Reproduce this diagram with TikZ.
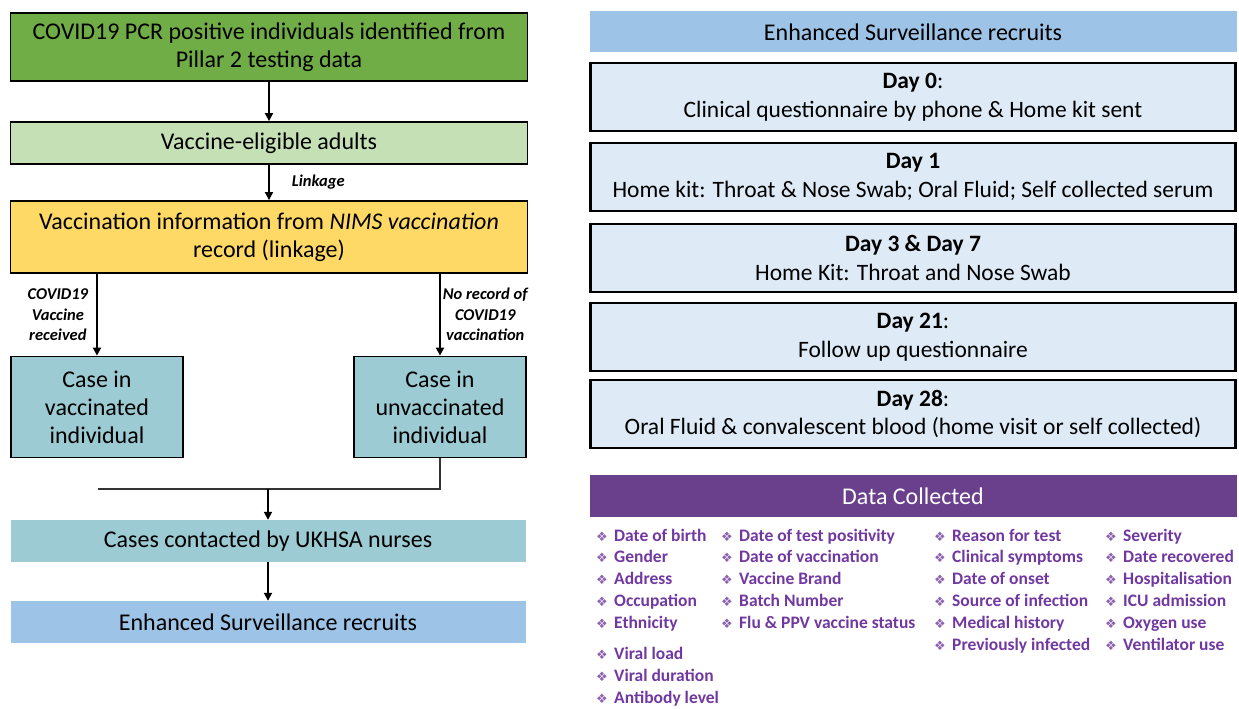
\documentclass[tikz,border=0pt]{standalone}
\usepackage{fontspec}
\setmainfont{Carlito}
\newfontfamily\symfont{DejaVu Sans}
\usetikzlibrary{positioning,arrows.meta}
\definecolor{pcrgreen}{HTML}{70AD47}
\definecolor{eligreen}{HTML}{C5E0B4}
\definecolor{nimsgold}{HTML}{FFD966}
\definecolor{caseteal}{HTML}{9CCBD3}
\definecolor{recblue}{HTML}{9DC3E6}
\definecolor{dayblue}{HTML}{DEEBF7}
\definecolor{datahead}{HTML}{6A408D}
\definecolor{datatext}{HTML}{7038A0}
\definecolor{bulletpurple}{HTML}{8E63B0}
\newcommand{\databullet}{\makebox[18pt][l]{\symfont\fontsize{13}{13}\selectfont\color{bulletpurple}❖}}
\tikzstyle{daybox} = [rectangle,draw,line width=2.2pt,fill=dayblue,text centered,align=center,minimum width=645pt,minimum height=68pt,font=\fontsize{23.5}{28.5}\selectfont]

\begin{document}
\begin{tikzpicture}
		[x=1pt,y=-1pt,
		block/.style={
		draw,
		line width=1.8pt,
		rectangle,
		align=center,
		font=\fontsize{24}{28}\selectfont},
		band/.style={
		rectangle,
		align=center,
		minimum width=515pt,
		minimum height=42pt,
		font=\fontsize{24}{28}\selectfont},
		arr/.style={line width=1.8pt,-{Triangle[length=8pt,width=8pt]}},
		lab/.style={align=center,inner sep=2pt,font=\fontsize{16.5}{20.5}\selectfont\bfseries\itshape},
		item/.style={anchor=west,inner sep=0pt,text height=12pt,text depth=4pt,text=datatext,font=\fontsize{17.5}{18}\selectfont\bfseries}
		]
		\useasboundingbox (0,0) rectangle (1239,709);
		% left column
		\node[block,fill=pcrgreen,minimum width=517pt,minimum height=68pt](pcr) at (269,47) {COVID19 PCR positive individuals identified from\\Pillar 2 testing data};
		\node[block,fill=eligreen,minimum width=517pt,minimum height=42pt](eligible) at (269,143) {Vaccine-eligible adults};
		\node[block,fill=nimsgold,minimum width=517pt,minimum height=72pt](nims) at (269,237) {Vaccination information from \textit{NIMS vaccination}\\record (linkage)};
		\node[block,fill=caseteal,minimum width=172pt,minimum height=101pt](casevac) at (97,407) {Case in\\vaccinated\\individual};
		\node[block,fill=caseteal,minimum width=172pt,minimum height=101pt](caseunvac) at (440,407) {Case in\\unvaccinated\\individual};
		\node[band,fill=caseteal](contacted) at (268,541) {Cases contacted by UKHSA nurses};
		\node[band,fill=recblue](recruits) at (268,622) {Enhanced Surveillance recruits};
		\coordinate (mergeL) at (98,489);
		\coordinate (merge) at (268,489);
		\draw[arr] (pcr) -- (eligible);
		\draw[arr] (eligible) -- node[lab,anchor=west,xshift=20pt]{Linkage} (nims);
		\draw[arr] (nims.south -| casevac.north) -- node[lab,left=6pt]{COVID19\\Vaccine\\received} (casevac.north);
		\draw[arr] (nims.south -| caseunvac.north) -- node[lab,right=0pt]{No record of\\COVID19\\vaccination} (caseunvac.north);
		\draw[line width=1.6pt,black!80] (caseunvac.south) |- (mergeL);
		\draw[arr] (merge) -- (contacted);
		\draw[arr] (contacted) -- (recruits);
		% right column
		\node[rectangle,fill=recblue,minimum width=647pt,minimum height=41pt,font=\fontsize{24}{28}\selectfont](esr) at (913,32) {Enhanced Surveillance recruits};
		\node[daybox](day0) at (913,97) {\textbf{Day 0}:\\Clinical questionnaire by phone \& Home kit sent};
		\node[daybox](day1) at (913,177) {\textbf{Day 1}\\Home kit: Throat \& Nose Swab; Oral Fluid; Self collected serum};
		\node[daybox](day3) at (913,258) {\textbf{Day 3 \& Day 7}\\Home Kit: Throat and Nose Swab};
		\node[daybox](day21) at (913,337) {\textbf{Day 21}:\\Follow up questionnaire};
		\node[daybox](day28) at (913,414) {\textbf{Day 28}:\\Oral Fluid \& convalescent blood (home visit or self collected)};
		\node[rectangle,fill=datahead,text=white,minimum width=647pt,minimum height=42pt,font=\fontsize{24}{28}\selectfont](data) at (913,496) {Data Collected};
		% data items
		\foreach \txt [count=\i] in {Date of birth,Gender,Address,Occupation,Ethnicity}
		\node[item](person-\i) at (596,{537+21.8*(\i-1)}) {\databullet\txt};
		\foreach \txt [count=\i] in {Viral load,Viral duration,Antibody level}
		\node[item](lab-\i) at (596,{655+22*(\i-1)}) {\databullet\txt};
		\foreach \txt [count=\i] in {Date of test positivity,Date of vaccination,Vaccine Brand,Batch Number,Flu \& PPV vaccine status}
		\node[item](vacc-\i) at (721,{537+21.8*(\i-1)}) {\databullet\txt};
		\foreach \txt [count=\i] in {Reason for test,Clinical symptoms,Date of onset,Source of infection,Medical history,Previously infected}
		\node[item](clin-\i) at (934,{537+21.8*(\i-1)}) {\databullet\txt};
		\foreach \txt [count=\i] in {Severity,Date recovered,Hospitalisation,ICU admission,Oxygen use,Ventilator use}
		\node[item](sev-\i) at (1105,{537+21.8*(\i-1)}) {\databullet\txt};
		\end{tikzpicture}
\end{document}
